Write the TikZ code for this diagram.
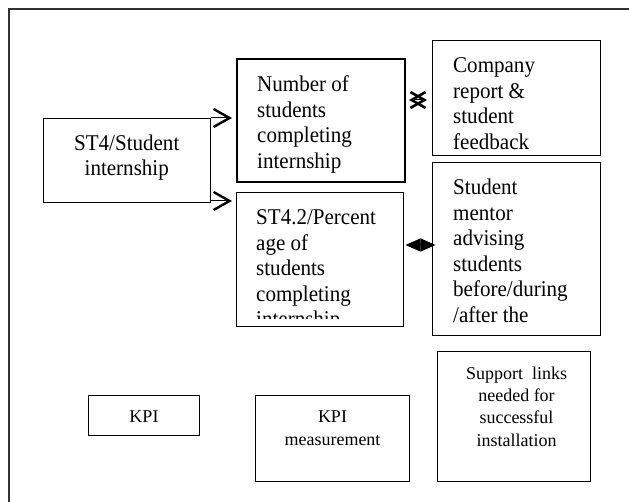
\documentclass[tikz,border=0pt]{standalone}
\usepackage{fontspec}
\setmainfont{Liberation Serif}
\newfontfamily\boxfont[FakeStretch=0.935]{Liberation Serif}
\usetikzlibrary{arrows.meta}

\begin{document}
\begin{tikzpicture}[x=1pt,y=1pt,
  box/.style={draw,line width=1pt,inner sep=0pt,anchor=north west},
  txt/.style={inner sep=0pt,anchor=north west,align=left,
    font=\boxfont\fontsize{22.5}{25.5}\selectfont,execute at begin node=\strut},
  small/.style={inner sep=0pt,anchor=north,align=center,
    font=\fontsize{18}{22.4}\selectfont,execute at begin node=\strut},
  link/.style={line width=1pt,-{Straight Barb[length=16pt,width=18pt,line width=2.4pt]},shorten >=4pt}]
\clip (0,0) rectangle (629,-502);
% page frame, runs off the right and bottom
\draw [line width=1.2pt,black!80] (9,-9) rectangle (660,-540);

% boxes
\node [box,minimum width=167.5,minimum height=84] (st4) at (42.5,-118) {};
\node [box,line width=2pt,minimum width=168,minimum height=123] (num) at (236,-58) {};
\node [box,minimum width=168,minimum height=115] (comp) at (432,-40) {};
\node [box,minimum width=167,minimum height=134] (st42) at (236,-192) {};
\node [box,minimum width=168,minimum height=173] (ment) at (432,-162) {};
\node [box,minimum width=111,minimum height=40] (kpi) at (88,-395) {};
\node [box,minimum width=154,minimum height=86] (meas) at (255,-395) {};
\node [box,minimum width=153,minimum height=130] (supp) at (437,-351) {};

% texts
\node [txt,anchor=north,align=center] (st4t) at ([yshift=-16.5]st4.north) {ST4/Student\\internship};
\node [txt] (numt) at ([shift={(21,-17.5)}]num.north west) {Number of\\students\\completing\\internship};
\node [txt] (compt) at ([shift={(21,-17.5)}]comp.north west) {Company\\report \&\\student\\feedback};
\begin{scope}
\clip (st42.north west) rectangle ([yshift=-127]st42.north east);
\node [txt] (st42t) at ([shift={(20,-17.5)}]st42.north west) {ST4.2/Percent\\age of\\students\\completing\\internship};
\end{scope}
\node [txt] (mentt) at ([shift={(21,-17)}]ment.north west) {Student\\mentor\\advising\\students\\before/during\\/after the};
\node [small,anchor=center] (kpit) at ([yshift=-3]kpi.center) {KPI};
\node [small] (meast) at ([yshift=-16]meas.north) {KPI\\measurement};
\node [small] (suppt) at ([shift={(2.5,-15.5)}]supp.north) {Support\ \ links\\needed for\\successful\\installation};

% connectors
\draw [link] (st4.north east) -- (st4.north east -| num.west);
\draw [link] ([yshift=2]st4.south east) -- ([yshift=2]st4.south east -| st42.west);
\draw [line width=1pt,{Straight Barb[length=14pt,width=16pt,line width=2.6pt]}-{Straight Barb[length=14pt,width=16pt,line width=2.6pt]},
  shorten <=3pt,shorten >=5pt] ([yshift=-2]comp.west -| num.east) -- ([yshift=-2]comp.west);
\draw [line width=1pt,{Triangle[length=15pt,width=13pt]}-{Triangle[length=15pt,width=13pt]},
  shorten <=1.5pt,shorten >=-3.5pt] ([yshift=4]ment.west -| st42.east) -- ([yshift=4]ment.west);
\end{tikzpicture}
\end{document}
